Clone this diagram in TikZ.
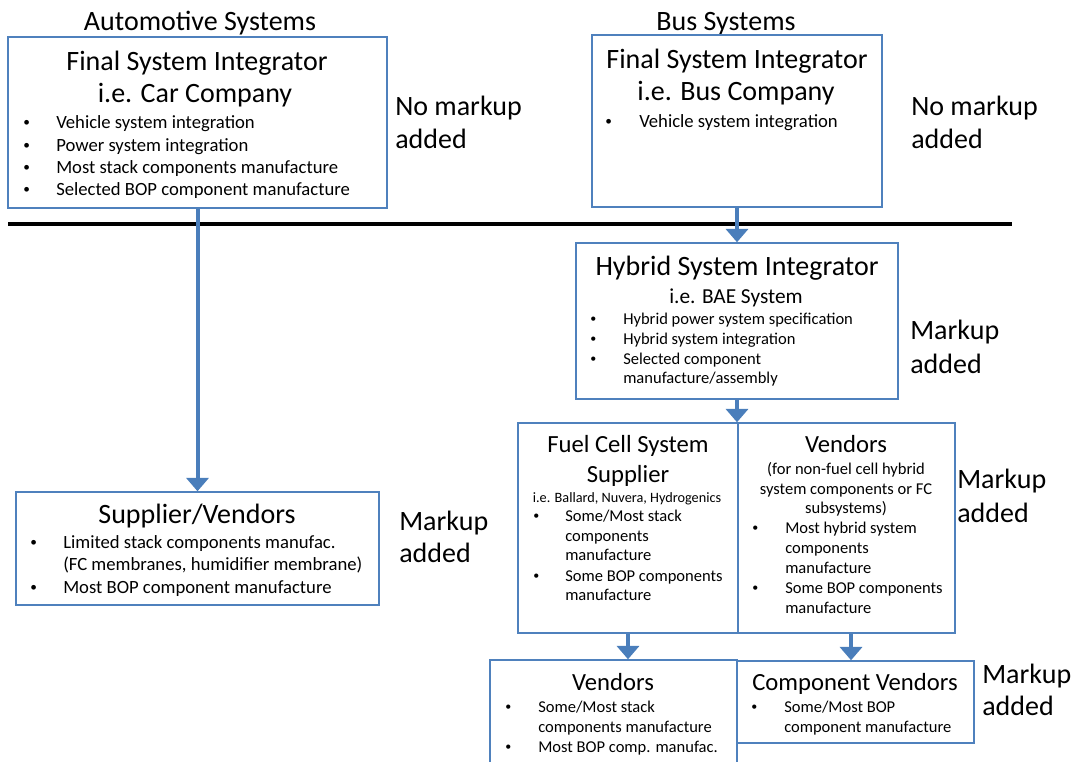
\documentclass[tikz,border=0pt]{standalone}
\usepackage{fontspec}
\setmainfont{Carlito}
\usetikzlibrary{arrows.meta,fit}
\definecolor{boxblue}{RGB}{79,129,189}
\definecolor{arrblue}{RGB}{74,126,187}

\begin{document}
\begin{tikzpicture}[x=0.75pt,y=-0.75pt,
    box/.style={draw=boxblue,line width=1.1pt,inner sep=0pt},
    flow/.style={arrblue,line width=3pt,-{Triangle[width=16.5pt,length=10pt]}},
    ctr/.style={inner sep=0pt,anchor=base},
    lft/.style={inner sep=0pt,anchor=base west},
    bigtxt/.style={font=\fontsize{21}{25}\selectfont},
    midtxt/.style={font=\fontsize{14}{17}\selectfont},
    subtxt/.style={font=\fontsize{16}{19}\selectfont},
    fctxt/.style={font=\fontsize{18.5}{22}\selectfont},
    smltxt/.style={font=\fontsize{12.4}{15}\selectfont},
    ietxt/.style={font=\fontsize{10.7}{13}\selectfont},
    middot/.style={inner sep=0pt,anchor=base west,font=\fontsize{10}{10}\selectfont,yshift=1.5pt},
    smldot/.style={inner sep=0pt,anchor=base west,font=\fontsize{9}{9}\selectfont,yshift=1.3pt}]
\useasboundingbox (0,0) rectangle (1073,761);
\clip (0,0) rectangle (1073,761);

% automotive side
\node[ctr,bigtxt] (autohd) at (200,30) {Automotive Systems};
\node[box,fit={(8,37) (387,208)}] (carfsi) {};
\node[ctr,bigtxt] (cart1) at (197,70) {Final System Integrator};
\node[ctr,bigtxt] (cart2) at (195,102) {i.e. Car Company};
\foreach \y/\t [count=\i] in {128/Vehicle system integration,151/Power system integration,173/Most stack components manufacture,195/Selected BOP component manufacture}{
  \node[middot] (card\i) at (23,\y) {•};
  \node[lft,midtxt] (cari\i) at (56,\y) {\t};
}
\node[lft,bigtxt] (carn1) at (395,115) {No markup};
\node[lft,bigtxt] (carn2) at (395,148) {added};

\node[box,fit={(16,492) (379,605)}] (supven) {};
\node[ctr,bigtxt] (supt) at (197,523) {Supplier/Vendors};
\node[middot] (supd1) at (30,548) {•};
\node[lft,midtxt] (supi1) at (63,548) {Limited stack components manufac.};
\node[lft,midtxt] (supi2) at (63,570) {(FC membranes, humidifier membrane)};
\node[middot] (supd3) at (30,593) {•};
\node[lft,midtxt] (supi3) at (63,593) {Most BOP component manufacture};
\node[lft,bigtxt] (supn1) at (399,530) {Markup};
\node[lft,bigtxt] (supn2) at (399,562) {added};

% bus side
\node[ctr,bigtxt] (bushd) at (726,30) {Bus Systems};
\node[box,fit={(592,35) (882,207)}] (busfsi) {};
\node[ctr,bigtxt] (bust1) at (737,68) {Final System Integrator};
\node[ctr,bigtxt] (bust2) at (736,100) {i.e. Bus Company};
\node[middot] (busd1) at (605,127) {•};
\node[lft,midtxt] (busi1) at (639,127) {Vehicle system integration};
\node[lft,bigtxt] (busn1) at (911,115) {No markup};
\node[lft,bigtxt] (busn2) at (911,148) {added};

\node[box,fit={(576,243) (898,399)}] (hybrid) {};
\node[ctr,bigtxt] (hybt1) at (737,275) {Hybrid System Integrator};
\node[ctr,subtxt] (hybt2) at (736,303) {i.e. BAE System};
\foreach \y/\t [count=\i] in {324/Hybrid power system specification,344/Hybrid system integration,364/Selected component}{
  \node[smldot] (hybd\i) at (590,\y) {•};
  \node[lft,smltxt] (hybi\i) at (623,\y) {\t};
}
\node[lft,smltxt] (hybi4) at (623,383) {manufacture/assembly};
\node[lft,bigtxt] (hybn1) at (910,339) {Markup};
\node[lft,bigtxt] (hybn2) at (910,373) {added};

\node[box,fit={(518,423) (738,633)}] (fcsupp) {};
\node[box,fit={(738,423) (955,633)}] (hvend) {};
\node[ctr,fctxt] (fct1) at (628,452) {Fuel Cell System};
\node[ctr,fctxt] (fct2) at (628,482) {Supplier};
\node[ctr,ietxt] (fct3) at (627,502) {i.e. Ballard, Nuvera, Hydrogenics};
\foreach \y/\t [count=\i] in {521/{Some/Most stack},541/components,560/manufacture,581/Some BOP components,600/manufacture}
  \node[lft,smltxt] (fci\i) at (565,\y) {\t};
\node[smldot] (fcd1) at (533,521) {•};
\node[smldot] (fcd4) at (533,581) {•};
\node[ctr,fctxt] (hvt1) at (846,452) {Vendors};
\node[ctr,smltxt] (hvt2) at (846,474) {(for non-fuel cell hybrid};
\node[ctr,smltxt] (hvt3) at (846,494) {system components or FC};
\node[ctr,smltxt] (hvt4) at (846,513) {subsystems)};
\foreach \y/\t [count=\i] in {533/Most hybrid system,553/components,573/manufacture,593/Some BOP components,613/manufacture}
  \node[lft,smltxt] (hvi\i) at (785,\y) {\t};
\node[smldot] (hvd1) at (752,533) {•};
\node[smldot] (hvd4) at (752,593) {•};
\node[lft,bigtxt] (fcn1) at (957,488) {Markup};
\node[lft,bigtxt] (fcn2) at (957,522) {added};

\node[box,fit={(490,660) (737,790)}] (stackven) {};
\node[ctr,fctxt] (svt) at (613,690) {Vendors};
\node[smldot] (svd1) at (505,712) {•};
\node[lft,smltxt] (svi1) at (538,712) {Some/Most stack};
\node[lft,smltxt] (svi2) at (538,732) {components manufacture};
\node[smldot] (svd3) at (505,752) {•};
\node[lft,smltxt] (svi3) at (538,752) {Most BOP comp. manufac.};

\node[box,fit={(737,661) (974,743)}] (compven) {};
\node[ctr,fctxt] (cvt) at (855,690) {Component Vendors};
\node[smldot] (cvd1) at (751,712) {•};
\node[lft,smltxt] (cvi1) at (784,712) {Some/Most BOP};
\node[lft,smltxt] (cvi2) at (784,732) {component manufacture};
\node[lft,bigtxt] (cvn1) at (982,683) {Markup};
\node[lft,bigtxt] (cvn2) at (982,715) {added};

% divider and arrows
\draw[line width=2.3pt] (8,224) -- (1012,224);
\draw[flow] (carfsi.south) -- (supven.north);
\draw[flow] (busfsi.south) -- (hybrid.north);
\draw[flow] (hybrid.south) -- (hybrid.south |- fcsupp.north);
\draw[flow] (fcsupp.south) -- (fcsupp.south |- stackven.north);
\draw[flow] ([xshift=3.4pt]hvend.south) -- ([xshift=3.4pt]hvend.south |- compven.north);
\end{tikzpicture}
\end{document}
